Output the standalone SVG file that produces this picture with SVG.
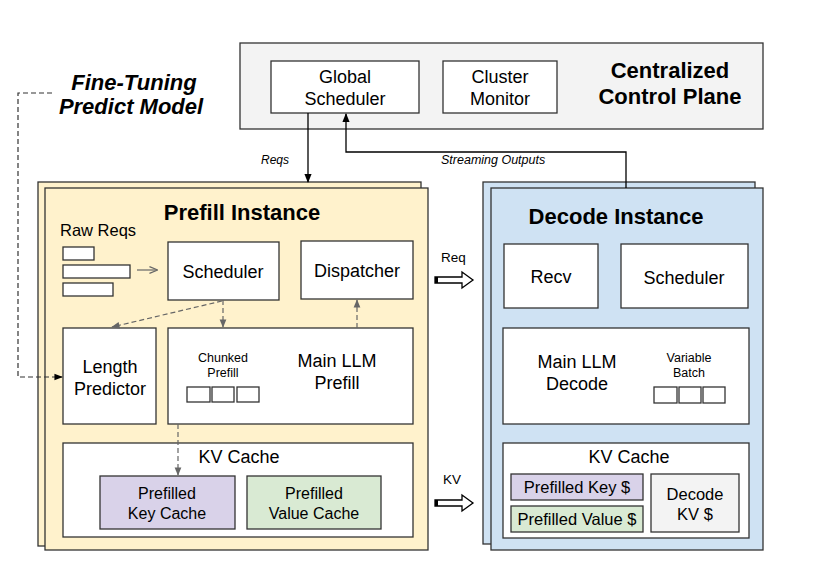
<svg xmlns="http://www.w3.org/2000/svg" width="826" height="567" viewBox="0 0 826 567">
<style>
text{font-family:"Liberation Sans",Arial,sans-serif;fill:#000}
.box{fill:#fff;stroke:#333;stroke-width:1.3}
.t18{font-size:18px;text-anchor:middle}
.t16{font-size:16px;text-anchor:middle}
.t165{font-size:16.5px;text-anchor:middle}
.t12{font-size:12.5px;text-anchor:middle}
.b22{font-size:22px;font-weight:bold;text-anchor:middle}
.it{font-style:italic}
.solid{fill:none;stroke:#000;stroke-width:1.3}
.dash{fill:none;stroke:#666;stroke-width:1.2;stroke-dasharray:5,3}
.dashb{fill:none;stroke:#333;stroke-width:1.2;stroke-dasharray:5,3}
.blk{fill:#fff;stroke:#000;stroke-width:1.3}
</style>
<defs>
<marker id="ah" viewBox="0 0 10 10" refX="9" refY="5" markerWidth="7" markerHeight="7" orient="auto"><path d="M0,1 L10,5 L0,9 z" fill="#000"/></marker>
<marker id="ag" viewBox="0 0 10 10" refX="9" refY="5" markerWidth="7" markerHeight="7" orient="auto"><path d="M0,1 L10,5 L0,9 z" fill="#666"/></marker>
<marker id="ao" viewBox="0 0 10 10" refX="9" refY="5" markerWidth="7" markerHeight="7" orient="auto"><path d="M0,1 L10,5 L0,9" fill="none" stroke="#666" stroke-width="1.5"/></marker>
</defs>

<g id="control-plane">
<rect x="240" y="43" width="523" height="86" fill="#f3f3f3" stroke="#333" stroke-width="1.3"/>
<text class="b22" x="670" y="78">Centralized</text>
<text class="b22" x="670" y="104">Control Plane</text>
</g>
<g id="global-scheduler">
<rect class="box" x="271" y="61" width="148" height="52"/>
<text class="t18" x="345" y="83">Global</text>
<text class="t18" x="345" y="105">Scheduler</text>
</g>
<g id="cluster-monitor">
<rect class="box" x="443" y="61" width="114" height="52"/>
<text class="t18" x="500" y="83">Cluster</text>
<text class="t18" x="500" y="105">Monitor</text>
</g>

<g id="fine-tuning">
<text class="b22 it" x="134" y="90">Fine-Tuning</text>
<text class="b22 it" x="131" y="114">Predict Model</text>
</g>

<g id="prefill-instance">
<rect x="38" y="182" width="383" height="364" fill="#fff2cc" stroke="#333" stroke-width="1.3"/>
<rect x="45" y="188" width="383" height="362" fill="#fff2cc" stroke="#333" stroke-width="1.3"/>
<text class="b22" x="242" y="220">Prefill Instance</text>
</g>
<g id="raw-reqs">
<text x="60" y="236" style="font-size:16.5px">Raw Reqs</text>
<rect class="box" x="63" y="247" width="31" height="13"/>
<rect class="box" x="63" y="265" width="67" height="13"/>
<rect class="box" x="63" y="283" width="50" height="13"/>
</g>
<g id="prefill-scheduler">
<rect class="box" x="168" y="242" width="111" height="58"/>
<text class="t18" x="223" y="278">Scheduler</text>
</g>
<g id="dispatcher">
<rect class="box" x="301" y="241" width="112" height="58"/>
<text class="t18" x="357" y="277">Dispatcher</text>
</g>
<g id="length-predictor">
<rect class="box" x="63" y="328" width="93" height="96"/>
<text class="t18" x="110" y="373">Length</text>
<text class="t18" x="110" y="395">Predictor</text>
</g>
<g id="main-llm-prefill">
<rect class="box" x="168" y="328" width="245" height="96"/>
<text class="t12" x="223" y="362">Chunked</text>
<text class="t12" x="223" y="377">Prefill</text>
<rect class="box" x="187" y="387" width="23" height="15"/>
<rect class="box" x="212" y="387" width="22" height="15"/>
<rect class="box" x="237" y="387" width="22" height="15"/>
<text class="t18" x="337" y="367">Main LLM</text>
<text class="t18" x="337" y="389">Prefill</text>
</g>
<g id="prefill-kv-cache">
<rect class="box" x="63" y="443" width="350" height="94"/>
<text class="t18" x="239" y="463">KV Cache</text>
</g>
<g id="prefilled-key-cache">
<rect x="100" y="476" width="135" height="53" fill="#d9d2e9" stroke="#333" stroke-width="1.3"/>
<text class="t16" x="167" y="499">Prefilled</text>
<text class="t16" x="167" y="519">Key Cache</text>
</g>
<g id="prefilled-value-cache">
<rect x="247" y="476" width="134" height="53" fill="#d9ead3" stroke="#333" stroke-width="1.3"/>
<text class="t16" x="314" y="499">Prefilled</text>
<text class="t16" x="314" y="519">Value Cache</text>
</g>

<g id="decode-instance">
<rect x="483" y="182" width="272" height="362" fill="#cfe2f3" stroke="#333" stroke-width="1.3"/>
<rect x="491" y="188" width="272" height="362" fill="#cfe2f3" stroke="#333" stroke-width="1.3"/>
<text class="b22" x="616" y="224">Decode Instance</text>
</g>
<g id="recv">
<rect class="box" x="504" y="244" width="94" height="64"/>
<text class="t18" x="551" y="283">Recv</text>
</g>
<g id="decode-scheduler">
<rect class="box" x="621" y="244" width="127" height="64"/>
<text class="t18" x="684" y="284">Scheduler</text>
</g>
<g id="main-llm-decode">
<rect class="box" x="503" y="328" width="246" height="96"/>
<text class="t18" x="577" y="368">Main LLM</text>
<text class="t18" x="577" y="390">Decode</text>
<text class="t12" x="689" y="362">Variable</text>
<text class="t12" x="689" y="377">Batch</text>
<rect class="box" x="654" y="387" width="23" height="16"/>
<rect class="box" x="679" y="387" width="22" height="16"/>
<rect class="box" x="703" y="387" width="22" height="16"/>
</g>
<g id="decode-kv-cache">
<rect class="box" x="503" y="443" width="246" height="95"/>
<text class="t18" x="629" y="463">KV Cache</text>
</g>
<g id="prefilled-key-s">
<rect x="511" y="474" width="132" height="26" fill="#d9d2e9" stroke="#333" stroke-width="1.3"/>
<text class="t165" x="577" y="493">Prefilled Key $</text>
</g>
<g id="prefilled-value-s">
<rect x="511" y="506" width="132" height="26" fill="#d9ead3" stroke="#333" stroke-width="1.3"/>
<text class="t165" x="577" y="525">Prefilled Value $</text>
</g>
<g id="decode-kv-s">
<rect x="651" y="474" width="88" height="58" fill="#f3f3f3" stroke="#333" stroke-width="1.3"/>
<text class="t165" x="695" y="500">Decode</text>
<text class="t165" x="695" y="520">KV $</text>
</g>

<g id="connectors">
<path class="solid" d="M308,113 V182" marker-end="url(#ah)"/>
<path class="solid" d="M626,188 V152 H346 V114" marker-end="url(#ah)"/>
<text class="it" x="261" y="164" style="font-size:12px">Reqs</text>
<text class="it" x="441" y="164" style="font-size:12.5px">Streaming Outputs</text>
<path class="dashb" d="M52,93 H18 V377 H62" marker-end="url(#ah)"/>
<path d="M137,270 H157" fill="none" stroke="#666" stroke-width="1.2" marker-end="url(#ao)"/>
<path class="dash" d="M223,300 V327" marker-end="url(#ag)"/>
<path class="dash" d="M222,301 L112,327" marker-end="url(#ag)"/>
<path class="dash" d="M357,328 V300" marker-end="url(#ag)"/>
<path class="dash" d="M178,424 V475" marker-end="url(#ag)"/>
<text x="441" y="262" style="font-size:13.5px">Req</text>
<polygon class="blk" points="435,277 462,277 462,272 473,280 462,288 462,283 435,283"/>
<rect x="435" y="277" width="3" height="6" fill="#000"/>
<text x="443" y="484" style="font-size:13.5px">KV</text>
<polygon class="blk" points="435,500 462,500 462,495 473,503 462,511 462,506 435,506"/>
<rect x="435" y="500" width="3" height="6" fill="#000"/>
</g>
</svg>
